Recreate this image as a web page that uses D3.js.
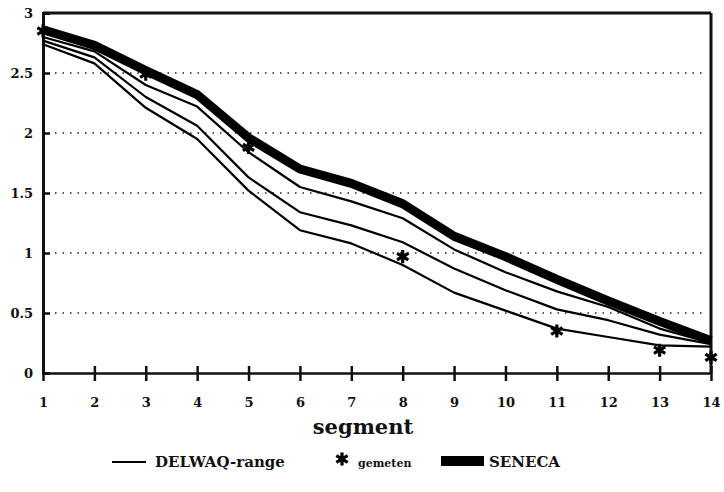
<!doctype html>
<html>
<head>
<meta charset="UTF-8">
<title>segment</title>
<script src="https://d3js.org/d3.v7.min.js"></script>
<style>
  body { margin: 0; background: #fff; }
  text { font-family: "DejaVu Serif", "Liberation Serif", serif; font-weight: bold; fill: #111; }
</style>
</head>
<body>
<svg id="chart" width="724" height="492"></svg>
<script>
// data
var segments = [1,2,3,4,5,6,7,8,9,10,11,12,13,14];
var delwaqHigh = [2.80,2.68,2.40,2.22,1.84,1.55,1.43,1.29,1.03,0.84,0.68,0.55,0.37,0.25];
var delwaqMid  = [2.77,2.63,2.30,2.06,1.63,1.34,1.23,1.09,0.87,0.69,0.53,0.44,0.32,0.24];
var delwaqLow  = [2.74,2.58,2.21,1.95,1.52,1.19,1.08,0.90,0.67,0.52,0.37,0.30,0.23,0.22];
var seneca     = [2.86,2.73,2.52,2.32,1.96,1.70,1.58,1.41,1.14,0.97,0.78,0.60,0.43,0.27];
var gemetenX = [1,3,5,8,11,13,14];
var gemetenY = [2.85,2.49,1.88,0.97,0.35,0.19,0.13];
var yTicks = [0,0.5,1,1.5,2,2.5,3];
var yTickLabels = ["0","0.5","1","1.5","2","2.5","3"];
var gridValues = [0.5,1,1.5,2,2.5];

var pLeft = 43, pRight = 711, pTop = 13, pBottom = 373;
var svg = d3.select("#chart");

var x = d3.scaleLinear().domain([1,14]).range([pLeft,pRight]);
var y = d3.scaleLinear().domain([0,3]).range([pBottom,pTop]);

// dotted grid
svg.append("g").selectAll("line").data(gridValues).enter().append("line")
  .attr("x1", pLeft + 12).attr("x2", pRight - 4)
  .attr("y1", function(d){ return y(d); }).attr("y2", function(d){ return y(d); })
  .attr("stroke", "#222").attr("stroke-width", 1.4)
  .attr("stroke-dasharray", "1.5,6");

// frame: top and right
svg.append("line").attr("x1", pLeft).attr("x2", pRight).attr("y1", pTop).attr("y2", pTop)
  .attr("stroke", "#111").attr("stroke-width", 3);
svg.append("line").attr("x1", pRight).attr("x2", pRight).attr("y1", pTop).attr("y2", pBottom)
  .attr("stroke", "#111").attr("stroke-width", 3);

// x axis
var xAxis = d3.axisBottom(x).tickValues(segments).tickSize(0).tickPadding(25)
  .tickFormat(d3.format("d"));
var gx = svg.append("g").attr("transform", "translate(0," + pBottom + ")").call(xAxis);
gx.select(".domain").attr("stroke", "#111").attr("stroke-width", 2.5);
gx.selectAll("text").attr("font-size", 13).attr("font-family", "DejaVu Serif").attr("font-weight", "bold").attr("fill", "#111");
gx.selectAll(".tick").append("line").attr("y1", -7).attr("y2", 8)
  .attr("stroke", "#111").attr("stroke-width", 2.5);

// y axis
var yAxis = d3.axisLeft(y).tickValues(yTicks).tickSize(-7).tickPadding(10)
  .tickFormat(function(d, i){ return yTickLabels[i]; });
var gy = svg.append("g").attr("transform", "translate(" + pLeft + ",0)").call(yAxis);
gy.select(".domain").attr("stroke", "#111").attr("stroke-width", 3);
gy.selectAll(".tick line").attr("stroke", "#111").attr("stroke-width", 2.5);
gy.selectAll("text").attr("font-size", 13).attr("font-family", "DejaVu Serif").attr("font-weight", "bold").attr("fill", "#111");

// lines
var line = d3.line()
  .x(function(d, i){ return x(segments[i]); })
  .y(function(d){ return y(d); });

svg.append("path").datum(seneca).attr("d", line)
  .attr("fill", "none").attr("stroke", "#000").attr("stroke-width", 9)
  .attr("stroke-linejoin", "round");

[delwaqHigh, delwaqMid, delwaqLow].forEach(function(s){
  svg.append("path").datum(s).attr("d", line)
    .attr("fill", "none").attr("stroke", "#000").attr("stroke-width", 2.2)
    .attr("stroke-linejoin", "round");
});

// measured points
var star = d3.symbol().type(d3.symbolAsterisk).size(120);
svg.append("g").selectAll("path").data(gemetenX).enter().append("path")
  .attr("d", star)
  .attr("transform", function(d, i){ return "translate(" + x(d) + "," + y(gemetenY[i]) + ")"; })
  .attr("fill", "none").attr("stroke", "#000").attr("stroke-width", 3.2);

// axis title
svg.append("text").attr("x", 363).attr("y", 434).attr("text-anchor", "middle")
  .attr("font-size", 21).text("segment");

// legend
var ly = 462;
svg.append("line").attr("x1", 112).attr("x2", 146).attr("y1", ly).attr("y2", ly)
  .attr("stroke", "#000").attr("stroke-width", 2);
svg.append("text").attr("x", 155).attr("y", ly + 5).attr("font-size", 15).text("DELWAQ-range");
svg.append("path").attr("d", star).attr("transform", "translate(342," + (ly - 3) + ")")
  .attr("fill", "none").attr("stroke", "#000").attr("stroke-width", 3.2);
svg.append("text").attr("x", 358).attr("y", ly + 5).attr("font-size", 11).text("gemeten");
svg.append("rect").attr("x", 441).attr("y", ly - 6).attr("width", 43).attr("height", 10).attr("fill", "#000");
svg.append("text").attr("x", 489).attr("y", ly + 5).attr("font-size", 15).text("SENECA");
</script>
</body>
</html>
